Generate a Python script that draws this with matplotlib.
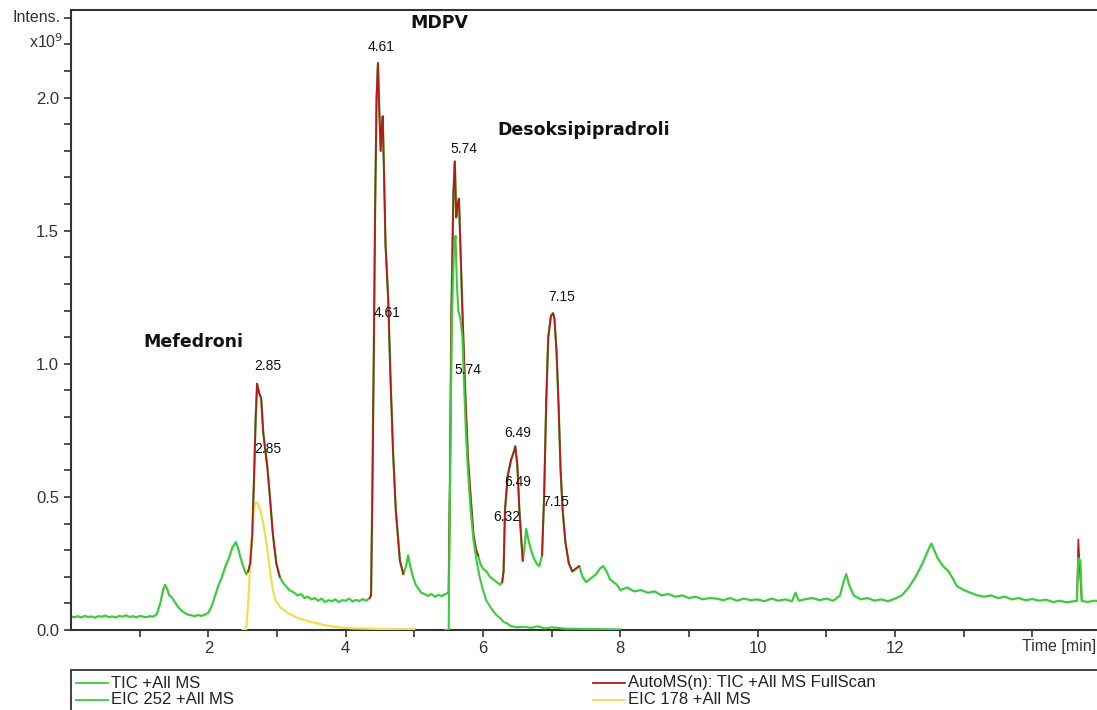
import numpy as np
import matplotlib
matplotlib.use("Agg")
import matplotlib.pyplot as plt
from matplotlib.lines import Line2D
from matplotlib.patches import Rectangle

# TIC +All MS (intensidad en 1e9)
tic_t = [0.00, 0.05, 0.10, 0.15, 0.20, 0.25, 0.30, 0.35, 0.40, 0.45, 0.50, 0.55, 0.60, 0.65, 0.70, 0.75,
         0.80, 0.85, 0.90, 0.95, 1.00, 1.05, 1.10, 1.15, 1.20, 1.25, 1.30, 1.34, 1.37, 1.40, 1.43, 1.46,
         1.50, 1.55, 1.60, 1.65, 1.70, 1.75, 1.80, 1.85, 1.90, 1.95, 2.00, 2.05, 2.10, 2.15, 2.20, 2.25,
         2.30, 2.35, 2.40, 2.43, 2.47, 2.52, 2.55, 2.58, 2.61, 2.64, 2.67, 2.69, 2.71, 2.74, 2.77, 2.80,
         2.86, 2.90, 2.94, 2.99, 3.02, 3.04, 3.08, 3.13, 3.18, 3.25, 3.30, 3.35, 3.40, 3.45, 3.50, 3.55,
         3.60, 3.65, 3.70, 3.75, 3.80, 3.85, 3.90, 3.95, 4.00, 4.05, 4.10, 4.15, 4.20, 4.25, 4.30, 4.35,
         4.37, 4.39, 4.41, 4.43, 4.45, 4.47, 4.49, 4.51, 4.53, 4.54, 4.56, 4.58, 4.62, 4.65, 4.69, 4.73,
         4.79, 4.84, 4.88, 4.91, 4.94, 4.98, 5.02, 5.06, 5.10, 5.15, 5.20, 5.25, 5.30, 5.35, 5.40, 5.45,
         5.50, 5.52, 5.54, 5.57, 5.59, 5.61, 5.63, 5.65, 5.67, 5.70, 5.74, 5.78, 5.82, 5.86, 5.90, 5.93,
         5.96, 6.00, 6.05, 6.10, 6.15, 6.20, 6.25, 6.28, 6.30, 6.32, 6.36, 6.41, 6.45, 6.47, 6.50, 6.53,
         6.56, 6.58, 6.60, 6.63, 6.66, 6.70, 6.74, 6.78, 6.82, 6.86, 6.89, 6.92, 6.95, 6.99, 7.02, 7.04,
         7.07, 7.10, 7.13, 7.16, 7.20, 7.25, 7.30, 7.35, 7.40, 7.45, 7.50, 7.55, 7.60, 7.65, 7.70, 7.75,
         7.80, 7.85, 7.90, 7.95, 8.00, 8.10, 8.20, 8.30, 8.40, 8.50, 8.60, 8.70, 8.80, 8.90, 9.00, 9.10,
         9.20, 9.30, 9.40, 9.50, 9.60, 9.70, 9.80, 9.90, 10.00, 10.10, 10.20, 10.30, 10.40, 10.50, 10.55,
         10.60, 10.70, 10.80, 10.90, 11.00, 11.10, 11.20, 11.25, 11.29, 11.33, 11.40, 11.50, 11.60, 11.70,
         11.80, 11.90, 12.00, 12.10, 12.20, 12.30, 12.40, 12.50, 12.53, 12.57, 12.62, 12.70, 12.78, 12.85,
         12.90, 13.00, 13.10, 13.20, 13.30, 13.40, 13.50, 13.60, 13.70, 13.80, 13.90, 14.00, 14.10, 14.20,
         14.30, 14.40, 14.50, 14.60, 14.65, 14.67, 14.70, 14.72, 14.80, 14.90, 15.00]
tic_i = [0.050, 0.048, 0.052, 0.047, 0.053, 0.049, 0.051, 0.046, 0.052, 0.050, 0.054, 0.048, 0.051, 0.047, 0.053, 0.050,
         0.055, 0.049, 0.052, 0.047, 0.053, 0.050, 0.048, 0.052, 0.050, 0.060, 0.100, 0.150, 0.170, 0.155, 0.130, 0.125,
         0.110, 0.090, 0.075, 0.065, 0.058, 0.055, 0.052, 0.056, 0.053, 0.058, 0.065, 0.090, 0.130, 0.170, 0.200, 0.240,
         0.270, 0.310, 0.330, 0.310, 0.270, 0.230, 0.210, 0.220, 0.250, 0.360, 0.610, 0.800, 0.925, 0.890, 0.870, 0.740,
         0.610, 0.490, 0.360, 0.250, 0.220, 0.200, 0.180, 0.165, 0.150, 0.140, 0.130, 0.135, 0.120, 0.125, 0.115, 0.120,
         0.110, 0.118, 0.105, 0.112, 0.108, 0.115, 0.105, 0.112, 0.110, 0.118, 0.107, 0.113, 0.109, 0.116, 0.110, 0.120,
         0.130, 0.550, 1.050, 1.600, 2.000, 2.130, 1.950, 1.800, 1.900, 1.930, 1.700, 1.450, 1.240, 0.970, 0.670, 0.450,
         0.260, 0.210, 0.240, 0.280, 0.240, 0.200, 0.170, 0.155, 0.140, 0.135, 0.128, 0.135, 0.125, 0.132, 0.127, 0.135,
         0.140, 0.600, 1.200, 1.650, 1.760, 1.550, 1.600, 1.620, 1.450, 1.200, 0.900, 0.650, 0.500, 0.360, 0.300, 0.280,
         0.250, 0.230, 0.220, 0.200, 0.190, 0.180, 0.170, 0.180, 0.220, 0.450, 0.580, 0.640, 0.670, 0.690, 0.620, 0.450,
         0.330, 0.260, 0.300, 0.380, 0.340, 0.300, 0.270, 0.250, 0.240, 0.280, 0.500, 0.850, 1.100, 1.180, 1.190, 1.170,
         1.050, 0.850, 0.600, 0.450, 0.330, 0.250, 0.220, 0.230, 0.240, 0.200, 0.180, 0.190, 0.200, 0.210, 0.230, 0.240,
         0.220, 0.190, 0.180, 0.170, 0.150, 0.160, 0.145, 0.150, 0.140, 0.145, 0.130, 0.135, 0.125, 0.130, 0.120, 0.125,
         0.115, 0.120, 0.118, 0.112, 0.120, 0.110, 0.118, 0.112, 0.115, 0.108, 0.118, 0.110, 0.115, 0.108, 0.140,
         0.110, 0.116, 0.120, 0.112, 0.118, 0.110, 0.130, 0.180, 0.210, 0.170, 0.130, 0.115, 0.120, 0.110,
         0.115, 0.108, 0.118, 0.130, 0.160, 0.200, 0.250, 0.310, 0.325, 0.300, 0.270, 0.240, 0.220, 0.190,
         0.165, 0.150, 0.140, 0.130, 0.125, 0.130, 0.120, 0.125, 0.115, 0.120, 0.112, 0.116, 0.110, 0.114,
         0.105, 0.110, 0.104, 0.108, 0.110, 0.270, 0.260, 0.110, 0.105, 0.110, 0.108]

# AutoMS(n): TIC +All MS FullScan (zonas de los picos)
automs_ventanas = [(2.58, 3.04), (4.35, 4.84), (5.50, 5.93), (6.28, 6.58), (6.86, 7.40)]
automs_pico_t = [14.65, 14.67, 14.69, 14.72]
automs_pico_i = [0.110, 0.340, 0.230, 0.110]

# EIC 252 +All MS
eic252_t = [5.45, 5.50, 5.51, 5.53, 5.55, 5.58, 5.60, 5.62, 5.64, 5.67, 5.70, 5.72, 5.75, 5.78, 5.82,
            5.86, 5.90, 5.95, 6.00, 6.05, 6.10, 6.15, 6.20, 6.25, 6.30, 6.35, 6.40, 6.50, 6.60, 6.70,
            6.80, 6.90, 7.00, 7.20, 7.50, 8.00]
eic252_i = [0.000, 0.000, 0.300, 0.800, 1.200, 1.450, 1.480, 1.300, 1.200, 1.170, 1.100, 0.950, 0.750, 0.600, 0.450,
            0.340, 0.270, 0.200, 0.150, 0.110, 0.090, 0.070, 0.055, 0.045, 0.030, 0.025, 0.015, 0.010, 0.012, 0.008,
            0.014, 0.006, 0.010, 0.005, 0.004, 0.002]

# EIC 178 +All MS
eic178_t = [2.50, 2.55, 2.58, 2.62, 2.66, 2.69, 2.72, 2.76, 2.80, 2.85, 2.90, 2.94, 2.98, 3.05, 3.15,
            3.30, 3.50, 3.70, 3.90, 4.10, 4.50, 5.00]
eic178_i = [0.000, 0.000, 0.100, 0.300, 0.450, 0.480, 0.475, 0.450, 0.400, 0.320, 0.220, 0.150, 0.110, 0.085, 0.065,
            0.045, 0.030, 0.018, 0.010, 0.006, 0.004, 0.003]

# etiquetas de tiempo de retención
etiquetas = ["4.61", "4.61", "5.74", "5.74", "7.15", "7.15", "6.49", "6.49", "6.32", "2.85", "2.85"]
etiq_x = [4.52, 4.60, 5.72, 5.78, 7.14, 7.06, 6.50, 6.50, 6.34, 2.86, 2.86]
etiq_y = [2.19, 1.19, 1.805, 0.975, 1.25, 0.48, 0.74, 0.555, 0.425, 0.99, 0.68]

compuestos = ["MDPV", "Desoksipipradroli", "Mefedroni"]
comp_x = [5.36, 7.46, 1.78]
comp_y = [2.28, 1.88, 1.08]

verde = "#3ccc3c"
rojo = "#b51a1a"
amarillo = "#f0de50"

plt.rcParams["font.family"] = ["Liberation Sans", "DejaVu Sans"]

fig = plt.figure(figsize=(10.97, 7.10), dpi=100)
ax = fig.add_axes([71 / 1097, 1 - 630 / 710, 1030 / 1097, 620 / 710])

t = np.array(tic_t)
i = np.array(tic_i)
mascara = np.zeros(len(t), dtype=bool)
for lo, hi in automs_ventanas:
    mascara |= (t >= lo) & (t <= hi)
rojo_i = np.where(mascara, i, np.nan)

ax.plot(tic_t, tic_i, color=verde, lw=1.6, zorder=2)
ax.plot(eic178_t, eic178_i, color=amarillo, lw=1.6, zorder=3)
ax.plot(t, rojo_i, color=rojo, lw=1.3, zorder=4)
ax.plot(automs_pico_t, automs_pico_i, color=rojo, lw=1.2, zorder=1)
ax.plot(eic252_t, eic252_i, color=verde, lw=1.5, zorder=5)

for txt, x, y in zip(etiquetas, etiq_x, etiq_y):
    ax.text(x, y, txt, ha="center", va="center", fontsize=10, color="#111111", zorder=6)
for txt, x, y in zip(compuestos, comp_x, comp_y):
    ax.text(x, y, txt, ha="center", va="center", fontsize=12.5, fontweight="bold",
            family="DejaVu Sans", color="#111111", zorder=6)

ax.set_xlim(0, 15.0)
ax.set_ylim(0, 2.329)
ax.set_xticks([2, 4, 6, 8, 10, 12])
ax.set_xticks([1, 3, 5, 7, 9, 11, 13, 14], minor=True)
ax.set_yticks([0.0, 0.5, 1.0, 1.5, 2.0])
ax.set_yticklabels(["0.0", "0.5", "1.0", "1.5", "2.0"])
ax.set_yticks(np.arange(0.1, 2.35, 0.1), minor=True)
ax.tick_params(which="both", length=5, width=1.2, color="#333333", direction="out",
               labelsize=12, labelcolor="#333333")
ax.tick_params(axis="x", pad=3)
ax.spines["right"].set_visible(False)
for s in ["left", "bottom", "top"]:
    ax.spines[s].set_linewidth(1.5)
    ax.spines[s].set_color("#333333")

fig.text(37 / 1097, 1 - 18 / 710, "Intens.", ha="center", va="center", fontsize=11.5, color="#333333")
fig.text(46 / 1097, 1 - 42 / 710, r"x10$^9$", ha="center", va="center", fontsize=11.5, color="#333333")
fig.text(1096 / 1097, 1 - 646 / 710, "Time [min]", ha="right", va="center", fontsize=11.5, color="#333333")

# leyenda
fig.patches.append(Rectangle((71 / 1097, -0.05), 1.0, 1 - 670 / 710 + 0.05, transform=fig.transFigure,
                             fill=False, edgecolor="#333333", lw=1.3))
leyenda = [("TIC +All MS", verde, 76, 683), ("EIC 252 +All MS", verde, 76, 700),
           ("AutoMS(n): TIC +All MS FullScan", rojo, 593, 683), ("EIC 178 +All MS", amarillo, 593, 700)]
for txt, col, x0, y0 in leyenda:
    fig.lines.append(Line2D([x0 / 1097, (x0 + 32) / 1097], [1 - y0 / 710, 1 - y0 / 710],
                            transform=fig.transFigure, color=col, lw=1.3))
    fig.text((x0 + 35) / 1097, 1 - y0 / 710, txt, ha="left", va="center", fontsize=12, color="#222222")

fig.savefig("out.png", dpi=100)
